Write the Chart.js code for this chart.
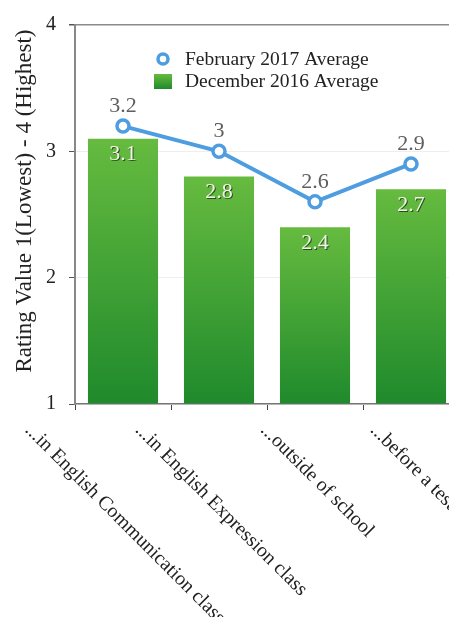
<!DOCTYPE html>
<html>
<head>
<meta charset="utf-8">
<script src="https://cdn.jsdelivr.net/npm/chart.js@4.4.1/dist/chart.umd.min.js"></script>
<style>
  html, body { margin: 0; padding: 0; background: #fff; overflow: hidden; }
  #grafico { display: block; width: 449px; height: 617px; }
</style>
</head>
<body>
<canvas id="grafico" width="449" height="617"></canvas>
<script>
const categorias = [
  "...in English Communication class",
  "...in English Expression class",
  "...outside of school",
  "...before a test"
];
const valoresDic2016 = [3.1, 2.8, 2.4, 2.7];
const valoresFeb2017 = [3.2, 3, 2.6, 2.9];
const ticksY = [1, 2, 3, 4];
const tituloY = "Rating Value 1(Lowest) - 4 (Highest)";

const fuente = "'Liberation Serif', 'Times New Roman', serif";
const azul = "#4d9de0";
const anchoCategoria = 96; // el grafico original sigue un poco mas alla del borde derecho

// degradado verde por barra (claro arriba, oscuro abajo)
const degradadoBarra = (ctx, yTop, yBottom) => {
  const g = ctx.createLinearGradient(0, yTop, 0, yBottom);
  g.addColorStop(0, "#66bb3f");
  g.addColorStop(1, "#1f8a2c");
  return g;
};

const colorBarra = (context) => {
  const chart = context.chart;
  if (!chart.chartArea || context.dataIndex === undefined) return "#3a9e35";
  const y = chart.scales.y;
  const v = context.dataset.data[context.dataIndex];
  return degradadoBarra(chart.ctx, y.getPixelForValue(v), y.getPixelForValue(1));
};

// estira el eje x para que la ultima barra quede cortada como en el original
const recortePlugin = {
  id: "recorte",
  afterLayout(chart) {
    const xs = chart.scales.x;
    const derecha = xs.left + anchoCategoria * categorias.length;
    xs.right = derecha;
    xs.width = derecha - xs.left;
    xs.configure();
    chart.chartArea.right = derecha;
    chart.chartArea.width = derecha - chart.chartArea.left;
  }
};

const etiquetasPlugin = {
  id: "etiquetas",
  afterDatasetsDraw(chart) {
    const ctx = chart.ctx;

    // valores sobre la linea
    const metaLinea = chart.getDatasetMeta(1);
    ctx.save();
    ctx.font = "22px " + fuente;
    ctx.textAlign = "center";
    ctx.textBaseline = "middle";
    metaLinea.data.forEach((p, i) => {
      ctx.fillStyle = "rgba(255,255,255,0.9)";
      ctx.fillText(String(valoresFeb2017[i]), p.x + 1, p.y - 19);
      ctx.fillStyle = "#5e5e5e";
      ctx.fillText(String(valoresFeb2017[i]), p.x, p.y - 20);
    });

    // valores dentro de las barras
    const metaBarras = chart.getDatasetMeta(0);
    metaBarras.data.forEach((b, i) => {
      ctx.fillStyle = "rgba(20,40,20,0.75)";
      ctx.fillText(String(valoresDic2016[i]), b.x + 1, b.y + 17);
      ctx.fillStyle = "#f2f4e6";
      ctx.fillText(String(valoresDic2016[i]), b.x, b.y + 16);
    });
    ctx.restore();
  },
  afterDraw(chart) {
    const ctx = chart.ctx;
    const xs = chart.scales.x;
    const area = chart.chartArea;

    // leyenda dentro del area
    ctx.save();
    ctx.font = "19.5px " + fuente;
    ctx.textBaseline = "middle";
    ctx.textAlign = "left";
    ctx.strokeStyle = azul;
    ctx.lineWidth = 3.5;
    ctx.fillStyle = "#fff";
    ctx.beginPath();
    ctx.arc(163, 59, 5, 0, Math.PI * 2);
    ctx.fill();
    ctx.stroke();
    ctx.fillStyle = degradadoBarra(ctx, 74, 89);
    ctx.fillRect(154, 74, 18, 15);
    ctx.fillStyle = "#222";
    ctx.fillText(chart.data.datasets[1].label, 185, 60);
    ctx.fillText(chart.data.datasets[0].label, 185, 82);
    ctx.restore();

    // titulo eje y
    ctx.save();
    ctx.font = "23px " + fuente;
    ctx.fillStyle = "#222";
    ctx.textAlign = "center";
    ctx.textBaseline = "middle";
    ctx.translate(25, 201);
    ctx.rotate(-Math.PI / 2);
    ctx.fillText(tituloY, 0, 0);
    ctx.restore();

    // etiquetas del eje x giradas 45 grados
    ctx.save();
    ctx.font = "20px " + fuente;
    ctx.fillStyle = "#222";
    ctx.textAlign = "center";
    ctx.textBaseline = "middle";
    categorias.forEach((c, i) => {
      const cx = xs.getPixelForValue(i) + 2;
      const w = ctx.measureText(c).width;
      const cy = area.bottom + 16 + (w / 2 + 10) * Math.SQRT1_2;
      ctx.save();
      ctx.translate(cx, cy);
      ctx.rotate(Math.PI / 4);
      ctx.fillText(c, 0, 0);
      ctx.restore();
    });
    ctx.restore();
  }
};

const config = {
  data: {
    labels: categorias,
    datasets: [
      {
        type: "bar",
        label: "December 2016 Average",
        data: valoresDic2016,
        backgroundColor: colorBarra,
        borderWidth: 0,
        categoryPercentage: 1,
        barPercentage: 0.73,
        base: 1,
        order: 1
      },
      {
        type: "line",
        label: "February 2017 Average",
        data: valoresFeb2017,
        borderColor: azul,
        borderWidth: 4,
        pointRadius: 6,
        pointBorderWidth: 3.5,
        pointBackgroundColor: "#fff",
        pointBorderColor: azul,
        tension: 0,
        order: 0
      }
    ]
  },
  options: {
    responsive: false,
    maintainAspectRatio: false,
    animation: false,
    layout: { padding: { left: 0, top: 20, right: 0, bottom: 207 } },
    plugins: {
      legend: { display: false },
      tooltip: { enabled: false }
    },
    scales: {
      x: {
        offset: true,
        ticks: { display: false },
        grid: {
          offset: true,
          drawOnChartArea: false,
          tickLength: 6,
          color: "#444",
          lineWidth: 1
        },
        border: { color: "#777", width: 1.5 }
      },
      y: {
        min: 1,
        max: 4,
        afterFit: (scale) => { scale.width = 75; },
        afterBuildTicks: (scale) => {
          scale.ticks = ticksY.map((v) => ({ value: v }));
        },
        ticks: {
          padding: 13,
          color: "#222",
          font: { family: fuente, size: 20 }
        },
        grid: {
          tickLength: 6,
          color: (c) => (c.tick && c.tick.value === 4 ? "#8a8a8a" : "#eeeeee"),
          tickColor: "#555",
          lineWidth: (c) => (c.tick && c.tick.value === 4 ? 1.5 : 1)
        },
        border: { color: "#888", width: 2 }
      }
    }
  },
  plugins: [recortePlugin, etiquetasPlugin]
};

new Chart(document.getElementById("grafico"), config);
</script>
</body>
</html>
